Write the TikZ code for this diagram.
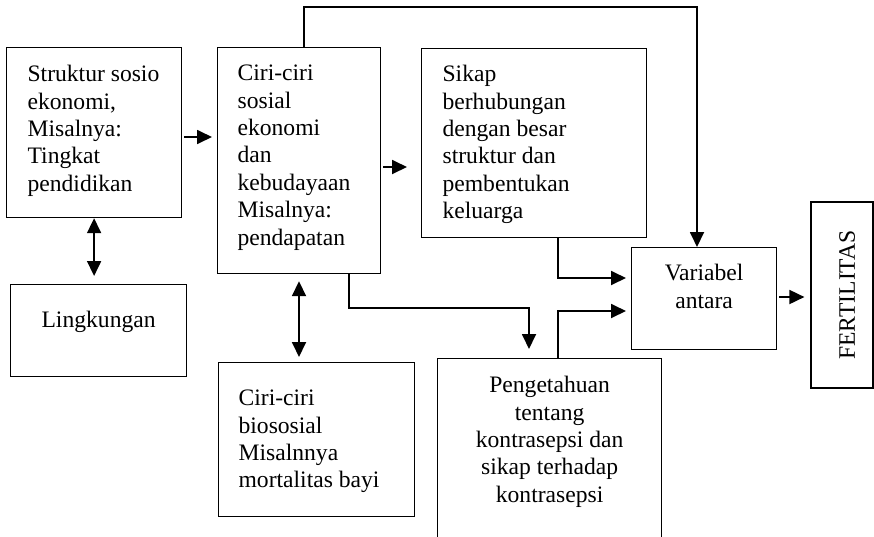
\documentclass[tikz,border=0pt]{standalone}
\usepackage{fontspec}
\setmainfont{Liberation Serif}
\usetikzlibrary{arrows.meta,calc}
\newcommand\boxtext[5]{\parbox[c][#2][t]{#1}{\vspace*{\dimexpr #3-20pt\relax}#4\rule{0pt}{20pt}#5}}
\begin{document}
\begin{tikzpicture}[x=1pt,y=-1pt,
  box/.style={draw, line width=1.2pt, inner sep=0pt, anchor=north west, font=\fontsize{23.6pt}{27.4pt}\selectfont},
  conn/.style={line width=1.8pt},
  arr/.style={conn, -{Triangle[length=15pt,width=14pt]}},
  darr/.style={conn, {Triangle[length=15pt,width=14pt]}-{Triangle[length=15pt,width=14pt]}}]
\useasboundingbox (0,0) rectangle (874,536);
\clip (0,0) rectangle (874,536);
% boxes
\node[box] (b1) at (6,47) {\boxtext{175pt}{170pt}{34pt}{\raggedright\leftskip=21pt}{Struktur sosio\\ekonomi,\\Misalnya:\\Tingkat\\pendidikan}};
\node[box] (b2) at (217,47) {\boxtext{163pt}{226pt}{33pt}{\raggedright\leftskip=20pt}{Ciri-ciri\\sosial\\ekonomi\\dan\\kebudayaan\\Misalnya:\\pendapatan}};
\node[box] (b3) at (421,48) {\boxtext{225pt}{189pt}{33pt}{\raggedright\leftskip=21pt}{Sikap\\berhubungan\\dengan besar\\struktur dan\\pembentukan\\keluarga}};
\node[box] (var) at (631,247) {\boxtext{145pt}{102pt}{33pt}{\centering}{Variabel\\antara}};
\node[box] (ling) at (10,284) {\boxtext{176pt}{92pt}{43pt}{\centering}{Lingkungan}};
\node[box] (bio) at (218,362) {\boxtext{196pt}{154pt}{43pt}{\raggedright\leftskip=20pt}{Ciri-ciri\\biososial\\Misalnnya\\mortalitas bayi}};
\node[box] (peng) at (437,358) {\boxtext{224pt}{200pt}{34pt}{\centering}{Pengetahuan\\tentang\\kontrasepsi dan\\sikap terhadap\\kontrasepsi}};
\node[draw, line width=1.2pt, inner sep=0pt, rotate=90, minimum width=186pt, minimum height=62pt,
  text height=25.6pt, text depth=0pt, font=\fontsize{23.6pt}{27.4pt}\selectfont] (fert) at (842,295) {FERTILITAS};
% connectors
\draw[arr] ($(b1.north east)+(2,90)$) -- ($(b2.north west)+(-5,90)$);
\draw[arr] ($(b2.north east)+(2,120)$) -- ($(b3.north west)+(-14,119)$);
\draw[arr] ($(b2.north west)+(87,0)$) -- ++(0,-40) -| (var.north west -| {$(var.north west)+(66,0)$});
\draw[darr] (b1.south) -- ($(b1.south |- ling.north)+(0,-8)$);
\draw[darr] ($(b2.south west)+(82,7)$) -- ($({$(b2.south west)+(82,0)$} |- bio.north)+(0,-5)$);
\draw[arr] ($(b2.south west)+(132,0)$) -- ++(0,34) -| ($(peng.north west)+(92,-9)$);
\draw[arr] ($(b3.south west)+(137,0)$) |- ($(var.north west)+(-5,31)$);
\draw[arr] ($(peng.north west)+(121,0)$) |- ($(var.north west)+(-5,64)$);
\coordinate (vfa) at ($(var.north east)+(2,50)$);
\draw[arr, shorten >=6pt] (vfa) -- (vfa -| fert.north);
\end{tikzpicture}
\end{document}
